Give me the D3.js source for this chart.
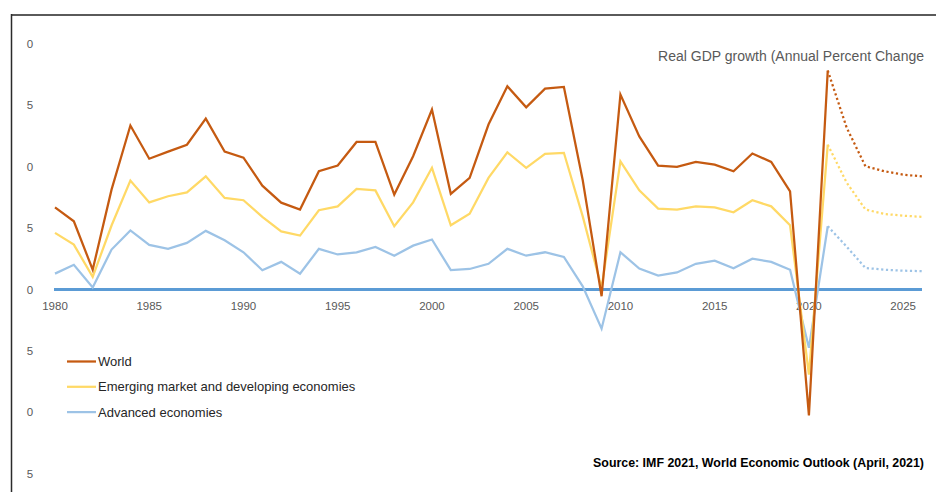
<!DOCTYPE html>
<html>
<head>
<meta charset="utf-8">
<script src="https://cdn.jsdelivr.net/npm/d3@7"></script>
<style>
  body { margin: 0; background: #fff; }
  text { font-family: "Liberation Sans", Arial, sans-serif; }
</style>
</head>
<body>
<div id="chart"></div>
<script>
var years = d3.range(1980, 2027);
var lastActual = 2021;

var world = [3.35, 2.78, 0.81, 4.07, 6.68, 5.33, 5.62, 5.90, 6.96, 5.62,
  5.37, 4.23, 3.54, 3.26, 4.82, 5.05, 6.01, 6.01, 3.87, 5.43,
  7.33, 3.90, 4.55, 6.72, 8.28, 7.42, 8.18, 8.25, 4.45, -0.27,
  7.94, 6.24, 5.05, 5.00, 5.20, 5.09, 4.82, 5.54, 5.20, 4.00,
  -5.12, 8.92, 6.60, 5.02, 4.82, 4.68, 4.61];

var emerging = [2.31, 1.83, 0.52, 2.61, 4.44, 3.55, 3.80, 3.96, 4.61, 3.73,
  3.64, 2.96, 2.37, 2.20, 3.23, 3.39, 4.10, 4.04, 2.58, 3.55,
  4.96, 2.62, 3.09, 4.55, 5.59, 4.96, 5.53, 5.57, 2.98, 0.07,
  5.22, 4.04, 3.30, 3.26, 3.39, 3.35, 3.15, 3.64, 3.39, 2.62,
  -3.46, 5.90, 4.36, 3.26, 3.08, 3.01, 2.96];

var advanced = [0.65, 1.01, 0.09, 1.63, 2.41, 1.82, 1.66, 1.90, 2.39, 2.01,
  1.52, 0.79, 1.13, 0.65, 1.66, 1.43, 1.52, 1.74, 1.38, 1.79,
  2.04, 0.79, 0.84, 1.05, 1.66, 1.38, 1.52, 1.33, 0.13, -1.59,
  1.52, 0.86, 0.57, 0.70, 1.05, 1.18, 0.87, 1.26, 1.13, 0.81,
  -2.37, 2.58, 1.75, 0.88, 0.81, 0.77, 0.75];

var seriesNames = ["World", "Emerging market and developing economies", "Advanced economies"];
var seriesColors = ["#C55A11", "#FFD966", "#9DC3E6"];

var yTicks = [10, 7.5, 5, 2.5, 0, -2.5, -5, -7.5];
var yTickLabels = ["0", "5", "0", "5", "0", "5", "0", "5"];
var xTicks = [1980, 1985, 1990, 1995, 2000, 2005, 2010, 2015, 2020, 2025];

var width = 936, height = 492;

var svg = d3.select("#chart").append("svg")
    .attr("width", width)
    .attr("height", height);

var x = d3.scaleLinear().domain([1980, 2026]).range([55, 922]);
var y = d3.scaleLinear().domain([-7.5, 10]).range([473.8, 44]);

// frame (top + left edge only, rest is cropped)
svg.append("line")
    .attr("x1", 11).attr("x2", width)
    .attr("y1", 15).attr("y2", 15)
    .style("stroke", "#5a5a5a").style("stroke-width", 2);
svg.append("line")
    .attr("x1", 11.5).attr("x2", 11.5)
    .attr("y1", 14).attr("y2", height)
    .style("stroke", "#2b2b2b").style("stroke-width", 1.5);

// y tick labels
svg.append("g")
    .selectAll("text")
    .data(yTicks)
    .enter().append("text")
    .attr("x", 30)
    .attr("y", function(d) { return y(d); })
    .attr("dy", "0.35em")
    .attr("text-anchor", "middle")
    .style("font-size", "11.5px")
    .style("fill", "#595959")
    .text(function(d, i) { return yTickLabels[i]; });

// zero line
svg.append("line")
    .attr("x1", x(1980) - 1).attr("x2", x(2026))
    .attr("y1", y(0)).attr("y2", y(0))
    .style("stroke", "#5B9BD5").style("stroke-width", 3);

// x tick labels
svg.append("g")
    .selectAll("text")
    .data(xTicks)
    .enter().append("text")
    .attr("x", function(d) { return x(d); })
    .attr("y", y(0) + 16)
    .attr("dy", "0.35em")
    .attr("text-anchor", "middle")
    .style("font-size", "11.5px")
    .style("fill", "#595959")
    .text(function(d) { return d; });

var line = d3.line()
    .x(function(d) { return x(d.year); })
    .y(function(d) { return y(d.value); });

var allSeries = [world, emerging, advanced];

// draw advanced first so world sits on top
for (var s = allSeries.length - 1; s >= 0; s--) {
    var pts = years.map(function(yr, i) { return {year: yr, value: allSeries[s][i]}; });
    var actual = pts.filter(function(d) { return d.year <= lastActual; });
    var forecast = pts.filter(function(d) { return d.year >= lastActual; });

    svg.append("path")
        .datum(actual)
        .attr("d", line)
        .style("fill", "none")
        .style("stroke", seriesColors[s])
        .style("stroke-width", 2.25)
        .style("stroke-linejoin", "miter");

    svg.append("path")
        .datum(forecast)
        .attr("d", line)
        .style("fill", "none")
        .style("stroke", seriesColors[s])
        .style("stroke-width", 2.25)
        .style("stroke-dasharray", "2.2,2.6");
}

// title
svg.append("text")
    .attr("x", 924)
    .attr("y", 61)
    .attr("text-anchor", "end")
    .style("font-size", "14px")
    .style("fill", "#595959")
    .text("Real GDP growth (Annual Percent Change");

// legend
var legend = svg.append("g")
    .selectAll("g")
    .data(seriesNames)
    .enter().append("g")
    .attr("transform", function(d, i) { return "translate(67," + (361.5 + i * 25.3) + ")"; });

legend.append("line")
    .attr("x1", 0).attr("x2", 29)
    .style("stroke", function(d, i) { return seriesColors[i]; })
    .style("stroke-width", 2.25);

legend.append("text")
    .attr("x", 31)
    .attr("dy", "0.35em")
    .style("font-size", "13px")
    .style("fill", "#262626")
    .text(function(d) { return d; });

// source note
svg.append("text")
    .attr("x", 924)
    .attr("y", 467)
    .attr("text-anchor", "end")
    .style("font-size", "12.4px")
    .style("font-weight", "bold")
    .style("fill", "#000")
    .text("Source: IMF 2021, World Economic Outlook (April, 2021)");
</script>
</body>
</html>
